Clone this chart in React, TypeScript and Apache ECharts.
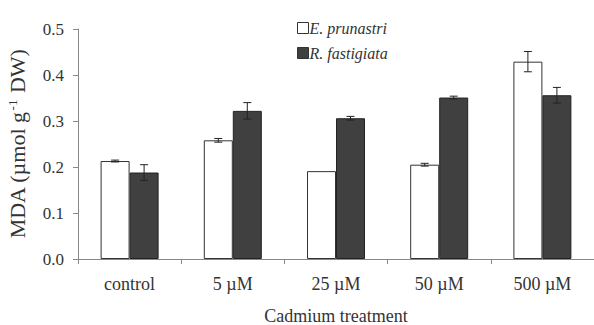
import React, { useEffect, useRef } from "react";
import * as echarts from "echarts";

const categories = ["control", "5 µM", "25 µM", "50 µM", "500 µM"];
const ePrunastri = [0.213, 0.258, 0.191, 0.205, 0.429];
const ePrunastriErr = [0.002, 0.004, 0, 0.003, 0.022];
const rFastigiata = [0.188, 0.322, 0.306, 0.351, 0.356];
const rFastigiataErr = [0.017, 0.018, 0.004, 0.003, 0.017];
const yTicks = [0, 0.1, 0.2, 0.3, 0.4, 0.5];

const BAR_W = 29;
const FONT = "'Liberation Serif', 'Times New Roman', serif";

function errSeries(values: number[], errs: number[], offset: number) {
  return {
    type: "custom",
    silent: true,
    z: 5,
    data: values.map((v, i) => [i, v, errs[i]]),
    renderItem: (params: any, api: any) => {
      const i = api.value(0);
      const v = api.value(1);
      const e = api.value(2);
      if (!e) return null;
      const top = api.coord([i, v + e]);
      const bot = api.coord([i, v - e]);
      const x = top[0] + offset;
      const cap = 4;
      const style = { stroke: "#222", lineWidth: 1 };
      return {
        type: "group",
        children: [
          { type: "line", shape: { x1: x, y1: top[1], x2: x, y2: bot[1] }, style },
          { type: "line", shape: { x1: x - cap, y1: top[1], x2: x + cap, y2: top[1] }, style },
          { type: "line", shape: { x1: x - cap, y1: bot[1], x2: x + cap, y2: bot[1] }, style },
        ],
      };
    },
  };
}

export default function App() {
  const ref = useRef<HTMLDivElement>(null);
  useEffect(() => {
    if (!ref.current) return;
    const chart = echarts.init(ref.current, undefined, { renderer: "svg" });
    chart.setOption({
      animation: false,
      backgroundColor: "#fff",
      textStyle: { fontFamily: FONT },
      grid: { left: 78, top: 29, right: 0, bottom: 66, containLabel: false, outerBoundsMode: "none" },
      legend: {
        orient: "vertical",
        left: 292,
        top: 15,
        itemGap: 9,
        itemWidth: 11,
        itemHeight: 11,
        icon: "rect",
        textStyle: { fontFamily: FONT, fontStyle: "italic", fontSize: 16, lineHeight: 16, color: "#333", padding: [0, 0, 0, -4] },
        data: [
          { name: "E. prunastri", itemStyle: { color: "#fff", borderColor: "#333", borderWidth: 1 } },
          { name: "R. fastigiata", itemStyle: { color: "#404040", borderColor: "#333", borderWidth: 1 } },
        ],
      },
      xAxis: {
        type: "category",
        data: categories,
        name: "Cadmium treatment",
        nameLocation: "middle",
        nameGap: 48,
        nameTextStyle: { fontFamily: FONT, fontSize: 18, color: "#333" },
        axisLine: { lineStyle: { color: "#888", width: 1 } },
        axisTick: { show: true, length: 5, lineStyle: { color: "#888" } },
        axisLabel: { fontFamily: FONT, fontSize: 18, color: "#333", margin: 16 },
      },
      yAxis: {
        type: "value",
        min: 0,
        max: 0.5,
        interval: 0.1,
        name: "MDA (µmol g{sup|-1} DW)",
        nameLocation: "middle",
        nameGap: 50,
        nameRotate: 90,
        nameTextStyle: {
          fontFamily: FONT,
          fontSize: 22,
          color: "#333",
          rich: {
            sup: { fontFamily: FONT, fontSize: 13, color: "#333", verticalAlign: "top", padding: [0, 1, 9, 1] },
          },
        },
        axisLine: { show: true, lineStyle: { color: "#888", width: 1 } },
        axisTick: { show: true, length: 5, lineStyle: { color: "#888" } },
        splitLine: { show: false },
        axisLabel: {
          fontFamily: FONT,
          fontSize: 17,
          color: "#333",
          margin: 14,
          formatter: (v: number) => (yTicks.includes(Math.round(v * 10) / 10) ? v.toFixed(1) : ""),
        },
      },
      series: [
        {
          name: "E. prunastri",
          type: "bar",
          data: ePrunastri,
          barWidth: BAR_W,
          barGap: "0%",
          itemStyle: { color: "#fff", borderColor: "#333", borderWidth: 1 },
        },
        {
          name: "R. fastigiata",
          type: "bar",
          data: rFastigiata,
          barWidth: BAR_W,
          barGap: "0%",
          itemStyle: { color: "#404040", borderColor: "#222", borderWidth: 1 },
        },
        errSeries(ePrunastri, ePrunastriErr, -BAR_W / 2),
        errSeries(rFastigiata, rFastigiataErr, BAR_W / 2),
      ],
    });
    return () => chart.dispose();
  }, []);
  return <div ref={ref} style={{ width: 594, height: 325, position: "absolute", left: 0, top: 0 }} />;
}
